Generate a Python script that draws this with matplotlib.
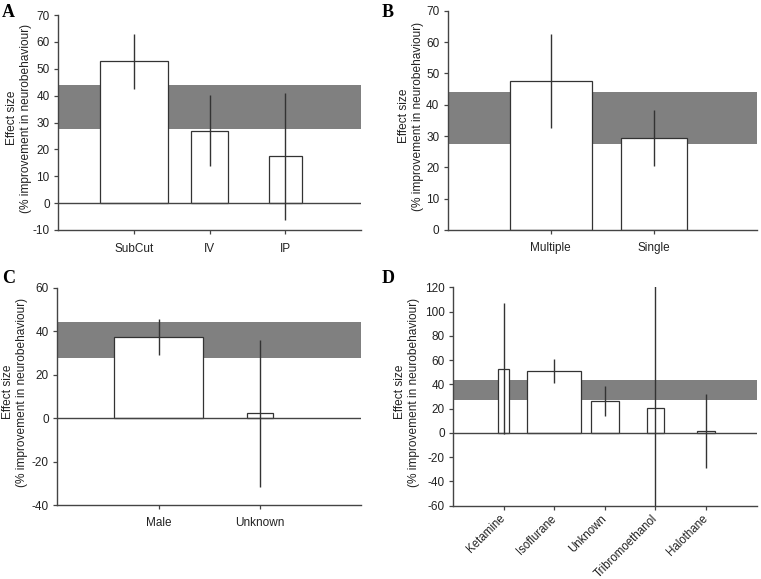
import matplotlib.pyplot as plt
import numpy as np

plt.rcParams['font.family'] = ['Liberation Sans', 'DejaVu Sans']
plt.rcParams['axes.unicode_minus'] = False

# Panel A: route of administration
cats_a = ["SubCut", "IV", "IP"]
mean_a = [52.7, 27.0, 17.4]
ci_a = [10.4, 13.2, 23.6]
width_a = [0.90, 0.50, 0.44]

# Panel B: number of doses
cats_b = ["Multiple", "Single"]
mean_b = [47.7, 29.3]
ci_b = [15.0, 9.0]
width_b = [0.80, 0.64]

# Panel C: sex
cats_c = ["Male", "Unknown"]
mean_c = [37.4, 2.3]
ci_c = [8.2, 33.8]
width_c = [0.885, 0.26]

# Panel D: anaesthetic
cats_d = ["Ketamine", "Isoflurane", "Unknown", "Tribromoethanol", "Halothane"]
mean_d = [53.0, 51.1, 26.1, 20.3, 1.4]
ci_d = [54.2, 9.8, 12.4, 115.0, 30.4]
width_d = [0.22, 1.06, 0.55, 0.34, 0.35]

# overall effect size 95% CI (shaded band)
band_lo, band_hi = 27.5, 44.0

W, H = 761, 579
fig = plt.figure(figsize=(W / 100, H / 100), dpi=100)

def px_axes(left, right, top, bottom):
    return fig.add_axes([left / W, 1 - bottom / H, (right - left) / W, (bottom - top) / H])

line_col = '#333333'
text_col = '#222222'

def panel(ax, cats, means, cis, widths, ylim, yticks, zero_line=True,
          rot=False, label_x=-0.125):
    x = np.arange(len(cats))
    ax.axhspan(band_lo, band_hi, color='#808080', lw=0, zorder=0)
    ax.bar(x, means, width=widths, color='white', edgecolor=line_col, lw=0.9, zorder=2)
    ax.errorbar(x, means, yerr=cis, fmt='none', ecolor=line_col, elinewidth=1.0,
                capsize=0, zorder=3)
    if zero_line:
        ax.axhline(0, color='#444444', lw=1.0, zorder=2.5)
    ax.set_xlim(-1, len(cats))
    ax.set_ylim(*ylim)
    ax.set_yticks(yticks)
    ax.set_xticks(x)
    if rot:
        ax.set_xticklabels(cats, rotation=45, ha='right', va='center',
                           rotation_mode='anchor', fontsize=8.3)
    else:
        ax.set_xticklabels(cats)
    for s in ['top', 'right']:
        ax.spines[s].set_visible(False)
    for s in ['left', 'bottom']:
        ax.spines[s].set_color('#444444')
        ax.spines[s].set_linewidth(1.0)
    ax.tick_params(axis='both', direction='out', length=3, width=0.9, color='#444444',
                   labelsize=8.5, labelcolor=text_col, pad=3)
    ax.tick_params(axis='x', pad=5 if rot else 6)
    if rot:
        for t in ax.get_xticklabels():
            t.set_fontsize(8.3)
    ax.set_ylabel("Effect size\n(% improvement in neurobehaviour)", fontsize=8.6,
                  color=text_col, va='center', linespacing=1.25)
    ax.yaxis.set_label_coords(label_x, 0.52)

ax_a = px_axes(58, 361, 15, 230)
panel(ax_a, cats_a, mean_a, ci_a, width_a, (-10, 70), range(-10, 71, 10),
      label_x=-0.128)
ax_b = px_axes(447.7, 756.7, 10.7, 230)
panel(ax_b, cats_b, mean_b, ci_b, width_b, (0, 70), range(0, 71, 10),
      zero_line=False, label_x=-0.119)
ax_c = px_axes(57.3, 361, 287.7, 505)
panel(ax_c, cats_c, mean_c, ci_c, width_c, (-40, 60), range(-40, 61, 20),
      label_x=-0.139)
ax_d = px_axes(453, 756.7, 287.3, 505.7)
panel(ax_d, cats_d, mean_d, ci_d, width_d, (-60, 120), range(-60, 121, 20),
      rot=True, label_x=-0.152)

# panel letters
for letter, lx, ly in [('A', 2, 4), ('B', 382, 4), ('C', 2, 270), ('D', 382, 270)]:
    fig.text(lx / W, 1 - ly / H, letter, family=['Liberation Serif', 'DejaVu Serif'],
             fontweight='bold', fontsize=13, va='top', ha='left')

fig.savefig('out.png', dpi=100)
